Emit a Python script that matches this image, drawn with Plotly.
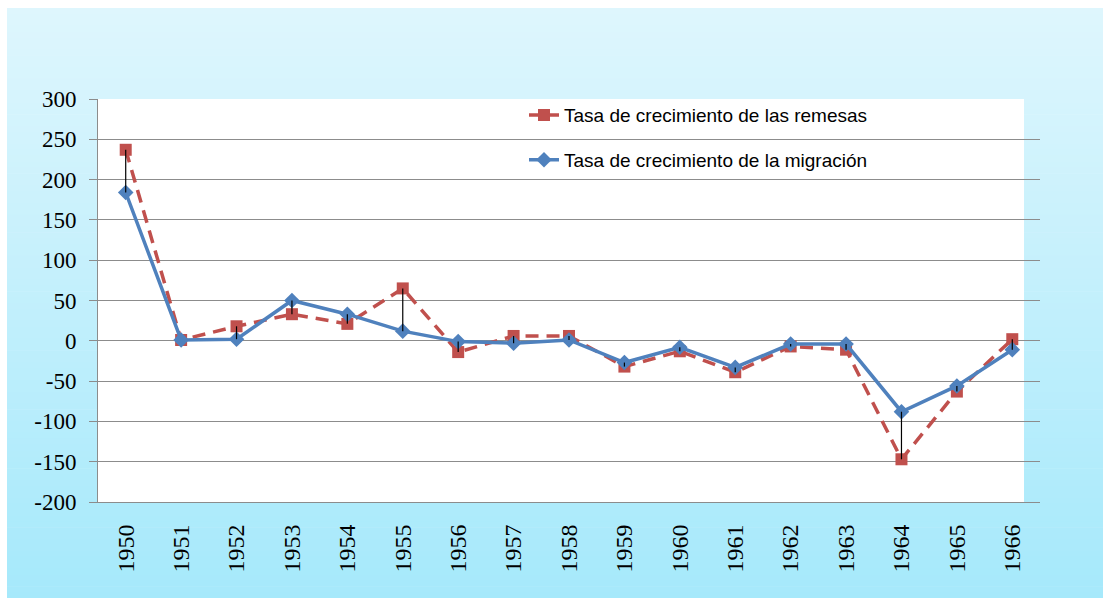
import plotly.graph_objects as go

years = [str(y) for y in range(1950, 1967)]
remesas = [237, 1, 18, 33, 21, 65, -14, 6, 6, -32, -13, -39, -7, -11, -147, -63, 2]
migracion = [184, 1, 2, 50, 33, 12, -1, -3, 1, -27, -8, -33, -4, -4, -88, -56, -11]
y_ticks = [300, 250, 200, 150, 100, 50, 0, -50, -100, -150, -200]
y_labels = ["300", "250", "200", "150", "100", "50", "0", "-50", "-100", "-150", "-200"]

RED = "#C0504D"
BLUE = "#4F81BD"
GRID = "#8C8C8C"

W, H = 1103, 598
L, R, T, B = 98, 63, 99, 96

fig = go.Figure()

fig.add_trace(go.Scatter(
    x=years, y=remesas, mode="lines+markers",
    name="Tasa de crecimiento de las remesas", legendgroup="a",
    line=dict(color=RED, width=3.5, dash="13px,8px"),
    marker=dict(symbol="square", size=12, color=RED),
))
fig.add_trace(go.Scatter(
    x=years, y=migracion, mode="lines+markers",
    name="Tasa de crecimiento de la migración", legendgroup="b",
    line=dict(color=BLUE, width=3.5),
    marker=dict(symbol="diamond", size=12, color=BLUE),
))

# high-low lines between the two series
hx, hy = [], []
for yr, r, m in zip(years, remesas, migracion):
    hx += [yr, yr, None]
    hy += [r, m, None]
fig.add_trace(go.Scatter(x=hx, y=hy, mode="lines", showlegend=False,
                         line=dict(color="black", width=1.2), hoverinfo="skip"))

# background gradient stripes (paper coords)
shapes = []
top_c = (222, 246, 253)
bot_c = (166, 233, 251)
y_top, y_bot, x_left = 8, H, 7
n = 100
pw, ph = W - L - R, H - T - B
for i in range(n):
    f = i / (n - 1)
    c = tuple(round(top_c[k] + (bot_c[k] - top_c[k]) * f) for k in range(3))
    py0 = y_top + (y_bot - y_top) * i / n
    py1 = y_top + (y_bot - y_top) * (i + 1) / n + 0.6
    shapes.append(dict(
        type="rect", xref="paper", yref="paper", layer="below",
        x0=(x_left - L) / pw, x1=(W - L) / pw,
        y0=(H - B - py1) / ph, y1=(H - B - py0) / ph,
        fillcolor="rgb(%d,%d,%d)" % c, line=dict(width=0),
    ))
# white plot area (stops short of the right end, as in the original)
shapes.append(dict(
    type="rect", xref="paper", yref="paper", layer="below",
    x0=0, x1=(1024 - L) / pw, y0=0, y1=1,
    fillcolor="white", line=dict(width=0),
))

fig.update_layout(
    width=W, height=H,
    margin=dict(l=L, r=R, t=T, b=B, pad=0),
    paper_bgcolor="white",
    plot_bgcolor="rgba(0,0,0,0)",
    shapes=shapes,
    showlegend=True,
    legend=dict(
        x=(524 - L) / pw, y=1.007, xanchor="left", yanchor="top",
        bgcolor="rgba(0,0,0,0)", tracegroupgap=17,
        font=dict(family="Liberation Sans, Arial, sans-serif", size=19, color="black"),
    ),
    xaxis=dict(
        type="category", range=[-0.5, len(years) - 0.5], tickangle=-90,
        showgrid=False, zeroline=False,
        showline=True, linecolor=GRID, linewidth=1, ticks="",
        ticklabelstandoff=12,
        tickfont=dict(family="Liberation Serif, Times New Roman, serif", size=24, color="black"),
    ),
    yaxis=dict(
        range=[-200, 300], tickmode="array", tickvals=y_ticks, ticktext=y_labels,
        showgrid=True, gridcolor=GRID,
        gridwidth=1, zeroline=False, showline=True, linecolor=GRID, linewidth=1,
        ticks="outside", ticklen=8, tickcolor=GRID, ticklabelstandoff=8,
        tickfont=dict(family="Liberation Serif, Times New Roman, serif", size=23, color="black"),
    ),
)

fig.write_html("out.html", config={"displayModeBar": False},
               post_script="document.body.style.margin='0';")
